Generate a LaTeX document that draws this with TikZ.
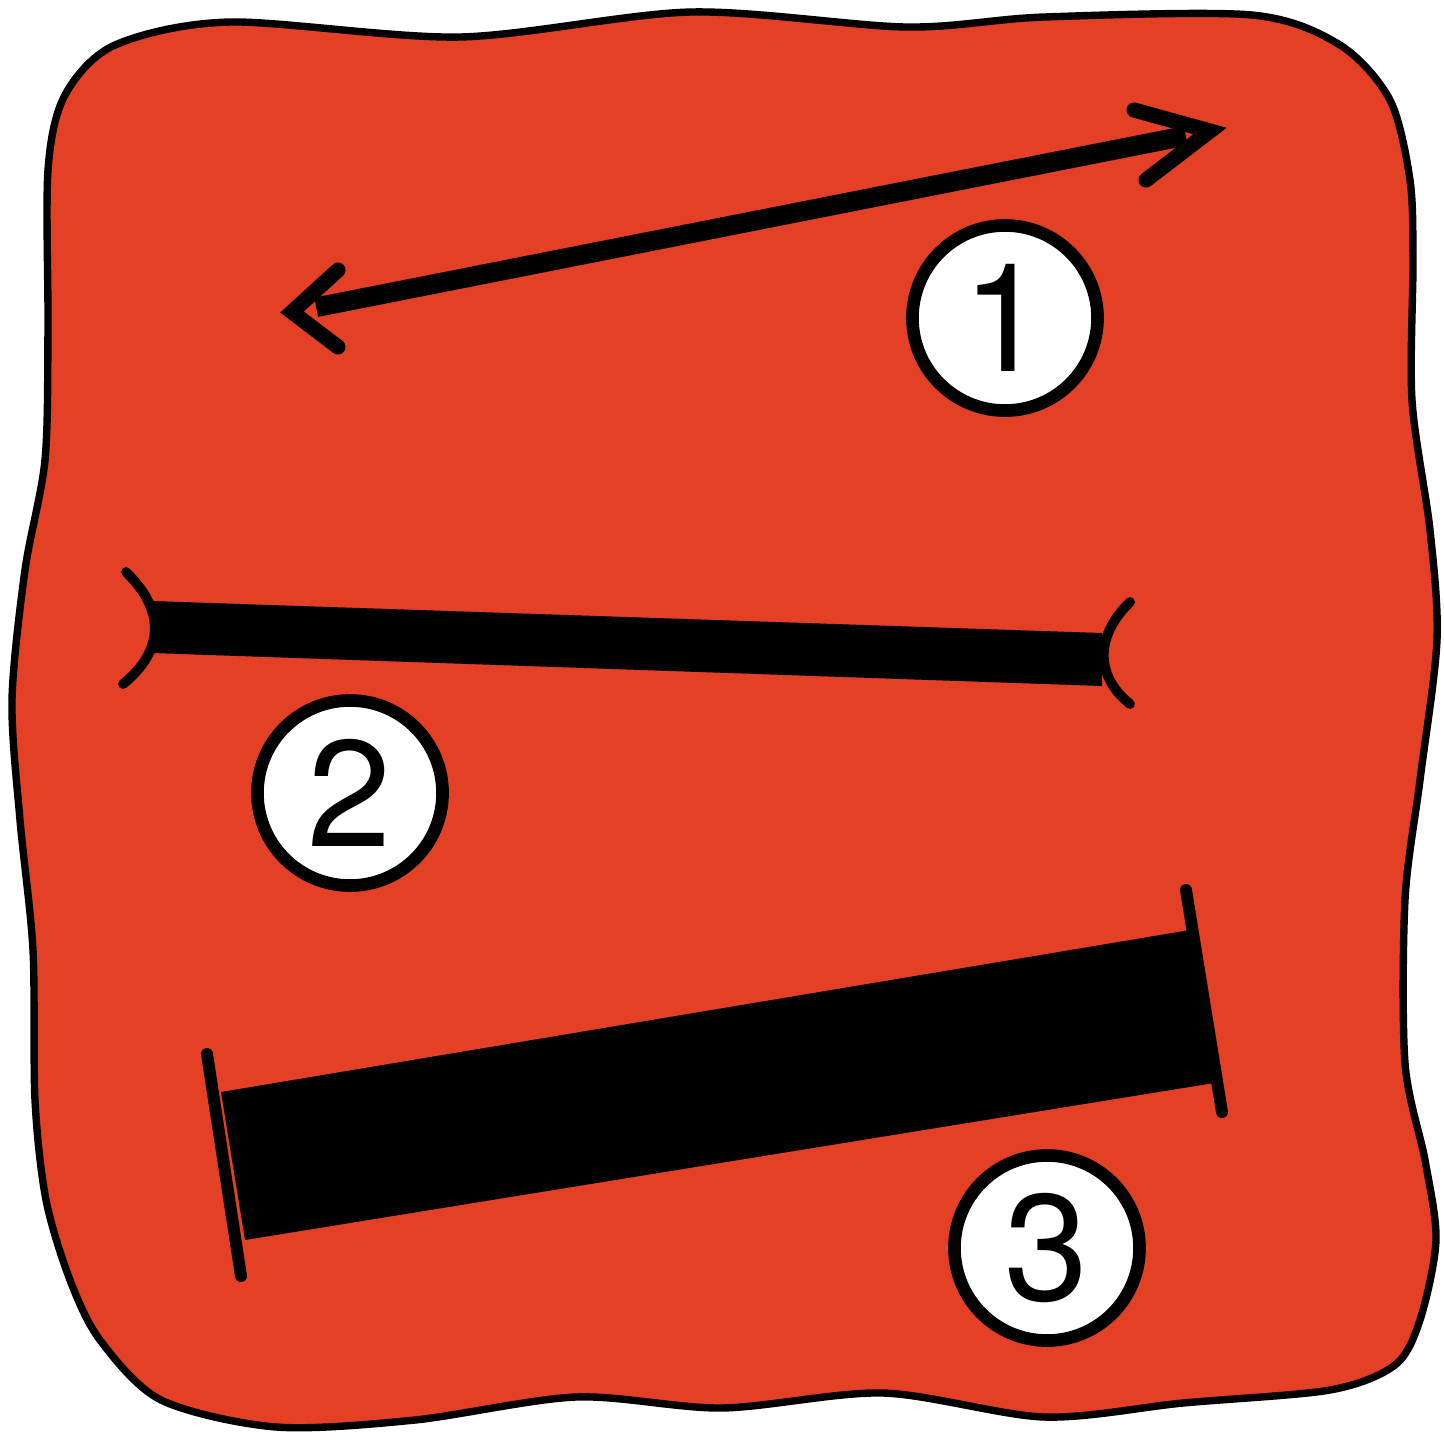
\documentclass[tikz,border=0pt]{standalone}
\usepackage{fontspec}
\setmainfont{TeX Gyre Heros}
\definecolor{bgred}{RGB}{228,64,38}
\begin{document}
\begin{tikzpicture}[x=0.01cm,y=-0.01cm,
  blob/.style={fill=bgred, draw=black, line width=2.1pt, line join=round},
  numcircle/.style={circle, draw=black, fill=white, line width=3.6pt,
    minimum size=1.85cm, inner sep=0pt, font=\fontsize{43}{43}\selectfont},
  arrowshaft/.style={line width=5.6pt, line cap=butt},
  barbline/.style={line width=4.3pt, line cap=round, line join=miter},
  prong/.style={line width=2.8pt, line cap=round},
  endcap/.style={line width=3.4pt, line cap=round},
  barfill/.style={fill=black}]
\useasboundingbox (0,0) rectangle (1444,1441);
\fill[white] (0,0) rectangle (1444,1441);
% wavy red panel
\draw[blob] plot[smooth cycle, tension=0.5] coordinates {
  (48,330) (48,170) (65,95) (115,45) (230,22) (460,37) (691,12) (906,27)
  (1044,17) (1252,15) (1340,45) (1390,100) (1410,180) (1413,260) (1412,400)
  (1430,530) (1437,640) (1420,780) (1405,900) (1405,1063) (1425,1160)
  (1436,1240) (1420,1320) (1395,1365) (1330,1390) (1183,1403) (1044,1417)
  (883,1393) (722,1408) (576,1397) (415,1420) (276,1427) (161,1400)
  (100,1340) (70,1280) (46,1200) (35,1100) (33,950) (20,820) (12,700)
  (25,570) (45,460)};
% 1: double arrow
\coordinate (a1l) at (292,312);
\coordinate (a1r) at (1210,131);
\draw[arrowshaft, shorten <=7pt, shorten >=7pt] (a1l) -- (a1r);
\draw[barbline] (338,270) -- (a1l) -- (338,347);
\draw[barbline] (1134,110) -- (a1r) -- (1146,180);
% 2: bar with flared ends
\coordinate (b2tl) at (152,601);
\coordinate (b2tr) at (1102,633);
\coordinate (b2br) at (1102,686);
\coordinate (b2bl) at (152,653);
\fill[barfill] (b2tl) -- (b2tr) -- (b2br) -- (b2bl) -- cycle;
\coordinate (p2lu) at (126,572);
\coordinate (p2ll) at (123,684);
\coordinate (p2ru) at (1130,602);
\coordinate (p2rl) at (1130,704);
\draw[prong] (p2lu) .. controls (165,610) and (165,650) .. (p2ll);
\draw[prong] (p2ru) .. controls (1095,636) and (1095,676) .. (p2rl);
% 3: thick bar with end caps
\coordinate (b3tl) at (221,1092);
\coordinate (b3tr) at (1190,930);
\coordinate (b3br) at (1214,1083);
\coordinate (b3bl) at (245,1240);
\fill[barfill] (b3tl) -- (b3tr) -- (b3br) -- (b3bl) -- cycle;
\coordinate (c3lt) at (207,1054);
\coordinate (c3lb) at (241,1276);
\coordinate (c3rt) at (1186,890);
\coordinate (c3rb) at (1222,1112);
\draw[endcap] (c3lt) -- (c3lb);
\draw[endcap] (c3rt) -- (c3rb);
% numbered circles
\node[numcircle] (n1) at (1005,318) {1};
\node[numcircle] (n2) at (350,793) {2};
\node[numcircle] (n3) at (1047,1248) {3};
\end{tikzpicture}
\end{document}
